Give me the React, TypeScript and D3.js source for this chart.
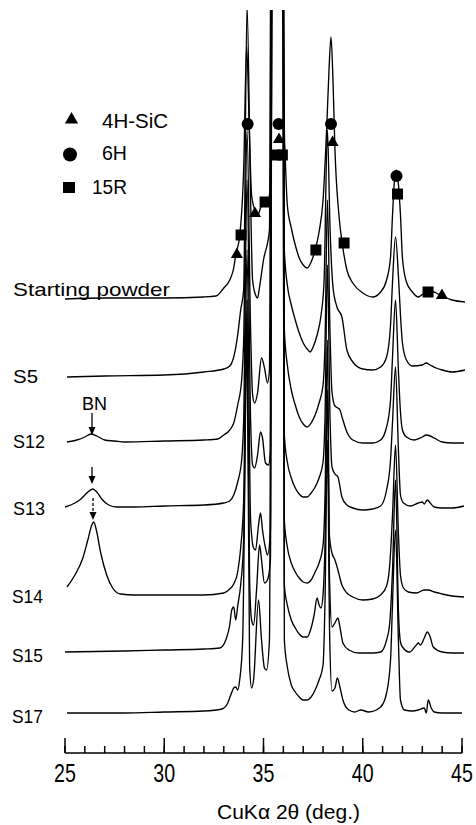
import React, { useEffect } from 'react';
import * as d3 from 'd3';

type Pt = [number, number];

// ---- data (2θ in degrees, relative intensity in arbitrary units above each trace's own baseline) ----
const traceLabels = ['Starting powder', 'S5', 'S12', 'S13', 'S14', 'S15', 'S17'];
const traceOffsets = [455, 376, 311, 246, 158, 101, 40];

const startingPowder: Pt[] = [
  [25.0, -1], [27, 0], [30, 0], [32, 1], [32.6, 2], [33.0, 10], [33.3, 18], [33.5, 30], [33.6, 43], [33.8, 62],
  [34.0, 128], [34.15, 251], [34.3, 158], [34.4, 103], [34.6, 86], [34.7, 82], [34.85, 90], [35.0, 95], [35.15, 93],
  [35.3, 103], [35.4, 178], [35.45, 398], [35.95, 398], [36.05, 168], [36.1, 138], [36.2, 93], [36.4, 70], [36.6, 53],
  [36.8, 40], [37.0, 33], [37.2, 30], [37.4, 36], [37.6, 48], [37.8, 66], [38.0, 98], [38.2, 178], [38.3, 228],
  [38.4, 261], [38.5, 218], [38.6, 148], [38.8, 83], [39.0, 50], [39.2, 28], [39.5, 15], [40.0, 5], [40.5, 1],
  [40.9, 6], [41.2, 18], [41.4, 41], [41.5, 83], [41.6, 118], [41.7, 128], [41.8, 113], [41.9, 83], [42.0, 40],
  [42.2, 16], [42.5, 6], [42.8, 1], [43.1, 5], [43.4, 7], [43.7, 5], [44.0, 2], [44.5, -2], [45.15, -4],
];

const s5: Pt[] = [
  [25.1, 0], [27, 1], [30, 2], [32, 5], [33.0, 8], [33.3, 11], [33.5, 20], [33.7, 42], [33.85, 67], [34.0, 87],
  [34.17, 372], [34.35, 177], [34.45, 97], [34.6, 82], [34.7, 79], [34.8, 90], [35.0, 117], [35.3, 147],
  [35.45, 950], [35.95, 950], [36.05, 127], [36.2, 92], [36.4, 72], [36.6, 57], [36.8, 44], [37.0, 34], [37.2, 28],
  [37.35, 25], [37.5, 30], [37.7, 42], [37.9, 62], [38.05, 95], [38.22, 247], [38.35, 150], [38.5, 90], [38.7, 70],
  [38.95, 60], [39.2, 27], [39.5, 15], [40.0, 8], [40.5, 7], [40.9, 10], [41.2, 20], [41.4, 52], [41.5, 95],
  [41.65, 140], [41.8, 100], [41.9, 62], [42.0, 34], [42.2, 17], [42.5, 11], [43.0, 12], [43.2, 14], [43.4, 12],
  [43.7, 9], [44.0, 7], [44.5, 5], [45.15, 7],
];

const s12: Pt[] = [
  [25.1, 0], [25.6, 2], [26.0, 5], [26.3, 8], [26.6, 6], [27.0, 2], [27.5, 1], [28, 0], [30, 1], [32, 2], [32.7, 3],
  [33.0, 7], [33.3, 12], [33.5, 19], [33.7, 37], [33.9, 62], [34.0, 102], [34.17, 312], [34.35, 112], [34.45, 47],
  [34.55, 39], [34.7, 49], [34.9, 84], [35.05, 74], [35.2, 59], [35.3, 72], [35.45, 950], [35.95, 950], [36.05, 112],
  [36.2, 77], [36.4, 52], [36.6, 37], [36.8, 25], [37.0, 18], [37.2, 15], [37.4, 19], [37.6, 27], [37.8, 39],
  [38.0, 57], [38.1, 100], [38.22, 242], [38.35, 110], [38.45, 50], [38.6, 36], [38.75, 34], [38.85, 32], [39.0, 22],
  [39.2, 10], [39.5, 2], [40.0, -1], [40.5, -1], [40.9, 2], [41.2, 15], [41.4, 42], [41.5, 85], [41.65, 142],
  [41.8, 70], [41.9, 30], [42.0, 12], [42.2, 5], [42.6, 2], [43.0, 5], [43.2, 7], [43.4, 6], [43.6, 4], [44.0, 0],
  [44.5, -1], [45.1, -1],
];

const s13: Pt[] = [
  [25.0, 0], [25.5, 4], [25.8, 8], [26.1, 14], [26.4, 18], [26.6, 15], [26.85, 8], [27.2, 2], [27.6, 0], [28.5, 0],
  [30, 1], [32, 2], [33.0, 4], [33.3, 6], [33.5, 12], [33.7, 25], [33.9, 47], [34.0, 87], [34.17, 327], [34.35, 87],
  [34.45, 42], [34.55, 39], [34.7, 52], [34.85, 75], [34.95, 69], [35.1, 44], [35.25, 42], [35.35, 57], [35.45, 950],
  [35.95, 950], [36.05, 72], [36.2, 45], [36.4, 29], [36.6, 19], [36.8, 13], [37.0, 10], [37.2, 10], [37.4, 14],
  [37.6, 20], [37.8, 29], [38.0, 45], [38.1, 90], [38.22, 242], [38.35, 90], [38.45, 40], [38.6, 33], [38.75, 30],
  [38.95, 10], [39.2, 2], [39.5, -1], [40.0, -3], [40.5, -2], [40.9, 1], [41.2, 17], [41.4, 47], [41.5, 85],
  [41.65, 140], [41.8, 55], [41.9, 12], [42.05, 4], [42.4, 1], [42.8, 4], [43.0, 5], [43.1, 3], [43.25, 7], [43.4, 4],
  [43.6, 0], [44.0, -1], [44.5, -1], [45.1, 1],
];

const s14: Pt[] = [
  [25.1, 8], [25.5, 20], [25.9, 37], [26.15, 55], [26.35, 70], [26.45, 73], [26.6, 63], [26.8, 42], [27.1, 20],
  [27.4, 7], [27.8, 1], [28.5, 0], [30, 0], [32, 0], [33.0, 2], [33.3, 6], [33.5, 11], [33.7, 23], [33.85, 47],
  [34.0, 95], [34.17, 345], [34.35, 75], [34.5, 47], [34.6, 45], [34.75, 70], [34.85, 82], [34.95, 65], [35.1, 47],
  [35.2, 40], [35.35, 65], [35.45, 950], [35.95, 950], [36.05, 75], [36.2, 48], [36.4, 32], [36.6, 23], [36.8, 17],
  [37.0, 13], [37.2, 12], [37.4, 15], [37.6, 23], [37.8, 32], [38.0, 50], [38.1, 100], [38.22, 255], [38.32, 60],
  [38.45, 42], [38.6, 35], [38.75, 25], [38.95, 10], [39.2, 2], [39.5, -2], [40.0, -5], [40.5, -4], [40.9, 0],
  [41.2, 9], [41.35, 28], [41.5, 80], [41.65, 150], [41.8, 60], [41.9, 20], [42.05, 7], [42.3, 3], [42.7, 2],
  [43.1, 5], [43.3, 5], [43.6, 3], [44.0, 1], [44.5, -1], [45.1, -2],
];

const s15: Pt[] = [
  [25.0, 0], [28, 1], [30, 2], [32, 3], [32.8, 4], [33.1, 12], [33.3, 27], [33.4, 42], [33.5, 45], [33.6, 32],
  [33.7, 46], [33.85, 67], [34.0, 112], [34.17, 352], [34.3, 72], [34.4, 32], [34.5, 27], [34.65, 62], [34.8, 107],
  [34.9, 92], [35.05, 69], [35.2, 72], [35.35, 92], [35.45, 950], [35.95, 950], [36.05, 67], [36.2, 47], [36.4, 32],
  [36.6, 24], [36.8, 18], [37.0, 15], [37.2, 15], [37.4, 24], [37.55, 37], [37.7, 54], [37.8, 47], [37.9, 44],
  [38.0, 57], [38.1, 110], [38.22, 262], [38.33, 70], [38.45, 25], [38.6, 29], [38.75, 34], [38.85, 25], [39.0, 9],
  [39.3, 2], [39.8, -1], [40.5, -1], [40.9, 0], [41.2, 12], [41.35, 27], [41.5, 82], [41.65, 172], [41.8, 40],
  [41.9, 10], [42.0, 5], [42.35, 0], [42.7, 7], [42.8, 9], [42.9, 7], [43.1, 14], [43.25, 20], [43.4, 15],
  [43.55, 5], [44.0, 0], [44.5, -1], [45.1, -1],
];

const s17: Pt[] = [
  [25.1, 0], [28, 0], [30, 1], [32, 2], [32.9, 4], [33.2, 10], [33.35, 18], [33.5, 25], [33.6, 26], [33.7, 23],
  [33.8, 33], [33.95, 73], [34.17, 373], [34.3, 48], [34.4, 25], [34.5, 33], [34.75, 113], [34.9, 73], [35.05, 45],
  [35.15, 43], [35.3, 73], [35.45, 950], [35.95, 950], [36.05, 73], [36.2, 46], [36.4, 28], [36.6, 21], [36.8, 16],
  [37.0, 13], [37.2, 13], [37.4, 16], [37.6, 23], [37.8, 33], [38.0, 48], [38.1, 113], [38.22, 273], [38.33, 80],
  [38.45, 22], [38.6, 25], [38.72, 35], [38.85, 26], [39.0, 13], [39.3, 3], [39.6, 1], [39.9, 3], [40.3, 1],
  [40.9, 6], [41.2, 20], [41.4, 53], [41.5, 110], [41.65, 183], [41.8, 70], [41.9, 13], [42.1, 3], [42.5, 2],
  [42.8, 3], [43.1, 5], [43.2, 0], [43.3, 13], [43.45, 5], [43.6, 1], [44.0, 0], [45.0, 0],
];

const traces: Pt[][] = [startingPowder, s5, s12, s13, s14, s15, s17];

const xMajorTicks = [25, 30, 35, 40, 45];
const xTickLabels = ['25', '30', '35', '40', '45'];

const legendLabels = ['4H-SiC', '6H', '15R'];
// phase markers on the starting-powder pattern (2θ, stacked intensity)
const marks4H: Pt[] = [[33.66, 500], [34.57, 541], [35.78, 615], [38.48, 612], [43.99, 459]];
const marks6H: Pt[] = [[34.2, 629], [35.76, 629], [38.4, 629], [41.7, 577]];
const marks15R: Pt[] = [[33.87, 518], [35.08, 551], [35.62, 598], [35.95, 598], [37.64, 503], [39.06, 510], [41.75, 559], [43.29, 461]];

const FONT = '"Liberation Sans", Arial, sans-serif';

export default function App() {
  useEffect(() => {
    document.body.style.margin = '0';
  }, []);

  const x = d3.scaleLinear().domain([25, 45]).range([65, 462]);
  const y = d3.scaleLinear().domain([0, 745]).range([753, 8]);

  const lineFor = (off: number) =>
    d3.line<Pt>()
      .x((d) => x(d[0]))
      .y((d) => y(off + d[1]))
      .curve(d3.curveMonotoneX);

  const triPath = (cx: number, cy: number, s: number) =>
    `M${cx},${cy - s * 0.5}L${cx + s * 0.55},${cy + s * 0.45}L${cx - s * 0.55},${cy + s * 0.45}Z`;

  const minorTicks = x.ticks(20);

  return (
    <svg width={476} height={825} style={{ position: 'absolute', left: 0, top: 0, background: '#fff' }}
      fontFamily={FONT}>
      <rect x={0} y={0} width={476} height={825} fill="#fff" />
      <defs>
        <clipPath id="plotClip">
          <rect x={0} y={10} width={476} height={745} />
        </clipPath>
      </defs>

      {/* traces */}
      <g clipPath="url(#plotClip)">
        {traces.map((t, i) => (
          <path key={i} d={lineFor(traceOffsets[i])(t) || ''} fill="none" stroke="#000" strokeWidth={1.35}
            strokeLinejoin="round" />
        ))}
      </g>

      {/* phase markers */}
      <g fill="#000">
        {marks6H.map((m, i) => (
          <circle key={'c' + i} cx={x(m[0])} cy={y(m[1])} r={6} />
        ))}
        {marks15R.map((m, i) => (
          <rect key={'s' + i} x={x(m[0]) - 5.5} y={y(m[1]) - 5.5} width={11} height={11} />
        ))}
        {marks4H.map((m, i) => (
          <path key={'t' + i} d={triPath(x(m[0]), y(m[1]), 11)} />
        ))}
      </g>

      {/* legend */}
      <g fill="#000">
        <path d={triPath(71.5, 118, 12)} />
        <circle cx={70} cy={154.5} r={7} />
        <rect x={63} y={182} width={12} height={11} />
        <text x={102} y={128} fontSize={20} textLength={66} lengthAdjust="spacingAndGlyphs">{legendLabels[0]}</text>
        <text x={102} y={160} fontSize={20} textLength={25} lengthAdjust="spacingAndGlyphs">{legendLabels[1]}</text>
        <text x={92} y={194} fontSize={20} textLength={35} lengthAdjust="spacingAndGlyphs">{legendLabels[2]}</text>
      </g>

      {/* trace labels */}
      <g fill="#000" fontSize={19}>
        <text x={13} y={296} textLength={157} lengthAdjust="spacingAndGlyphs">{traceLabels[0]}</text>
        <text x={13} y={383} textLength={25} lengthAdjust="spacingAndGlyphs">{traceLabels[1]}</text>
        <text x={13} y={448} textLength={32} lengthAdjust="spacingAndGlyphs">{traceLabels[2]}</text>
        <text x={13} y={515} textLength={32} lengthAdjust="spacingAndGlyphs">{traceLabels[3]}</text>
        <text x={12} y={603} textLength={31} lengthAdjust="spacingAndGlyphs">{traceLabels[4]}</text>
        <text x={12} y={662} textLength={31} lengthAdjust="spacingAndGlyphs">{traceLabels[5]}</text>
        <text x={12} y={723} textLength={31} lengthAdjust="spacingAndGlyphs">{traceLabels[6]}</text>
      </g>

      {/* BN annotation */}
      <g stroke="#000" strokeWidth={1.3} fill="#000">
        <text x={82} y={410} fontSize={19} stroke="none" textLength={25} lengthAdjust="spacingAndGlyphs">BN</text>
        <line x1={92} y1={413} x2={92} y2={429} />
        <path d="M88.5,427 L95.5,427 L92,435 Z" stroke="none" />
        <line x1={92} y1={467} x2={92} y2={477} />
        <path d="M88.5,476 L95.5,476 L92,484 Z" stroke="none" />
        <line x1={93} y1={498} x2={93} y2={513} strokeDasharray="3,2" />
        <path d="M89.5,512 L96.5,512 L93,520 Z" stroke="none" />
      </g>

      {/* x axis */}
      <g stroke="#000" strokeWidth={1.5}>
        <line x1={x(25)} y1={753} x2={x(45)} y2={753} />
        {minorTicks.map((t) => (
          <line key={'m' + t} x1={x(t)} y1={753} x2={x(t)} y2={746} />
        ))}
        {xMajorTicks.map((t) => (
          <line key={'M' + t} x1={x(t)} y1={753} x2={x(t)} y2={738} />
        ))}
      </g>
      <g fill="#000" fontSize={20} textAnchor="middle">
        {xMajorTicks.map((t, i) => (
          <text key={'l' + t} transform={`translate(${x(t)},782) scale(0.98,1.3)`}>
            {xTickLabels[i]}
          </text>
        ))}
      </g>
      <text x={217} y={819} fontSize={20} fill="#000" textLength={143} lengthAdjust="spacingAndGlyphs">
        CuKα  2θ (deg.)
      </text>
    </svg>
  );
}
